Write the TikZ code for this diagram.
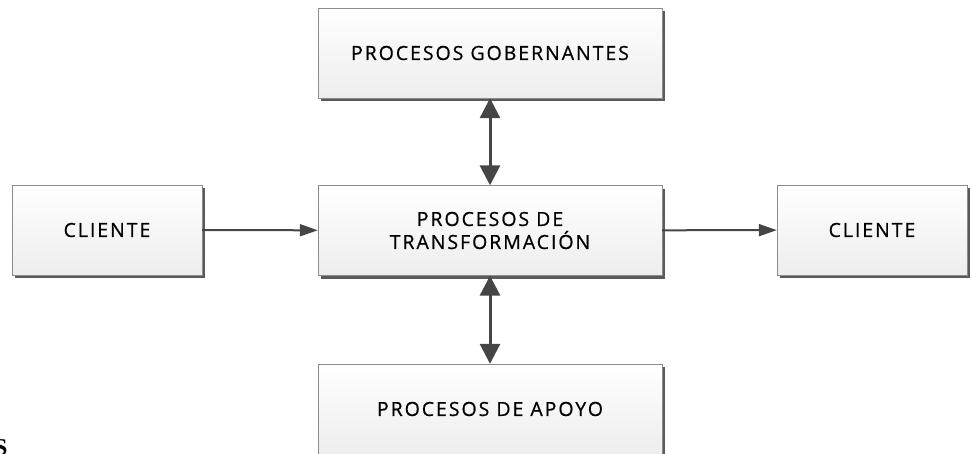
\documentclass[tikz,border=0pt]{standalone}
\usepackage{fontspec}
\setmainfont{Open Sans}
\newfontfamily\strayfont{Liberation Serif}
\usepackage{xcolor}
\usepackage{tikz}
\usetikzlibrary{arrows.meta,shadows}
\definecolor{lineColor}{HTML}{454545}
\definecolor{boxDraw}{HTML}{8C8C8C}
\definecolor{shadowColor}{HTML}{5A5A5A}

\begin{document}
\begin{tikzpicture}[
x=1pt,y=-1pt,
proc/.style={draw=boxDraw,top color=white,bottom color=black!7,
  minimum width=#1,minimum height=90pt,inner sep=0pt,align=center,
  font=\fontsize{19.5}{23}\selectfont\addfontfeatures{LetterSpace=10,FakeBold=0.6},
  drop shadow={shadow xshift=3pt,shadow yshift=-3pt,fill=shadowColor,opacity=1}},
proc/.default=344pt,
flow/.style={draw=lineColor,line width=2pt,-{Triangle[length=18pt,width=12pt]}},
both/.style={draw=lineColor,line width=3pt,{Triangle[length=20pt,width=20pt]}-{Triangle[length=20pt,width=20pt]}},
]
\useasboundingbox[clip] (0,0) rectangle (971,453);
\node[proc] (gob) at (490,53) {PROCESOS GOBERNANTES};
\node[proc] (trans) at (490,230.5) {PROCESOS DE\\TRANSFORMACIÓN};
\node[proc] (apoyo) at (490,409) {PROCESOS DE APOYO};
\node[proc=190pt] (cliIn) at (107,230) {CLIENTE};
\node[proc=190pt] (cliOut) at (872,230) {CLIENTE};
\node[anchor=north west,inner sep=0pt,font=\strayfont\bfseries\fontsize{24}{24}\selectfont] (stray) at (-6,439) {S};
\path[flow] (cliIn) -- (trans);
\path[flow] (trans) -- (cliOut);
\path[both] (gob) -- (trans);
\path[both] (trans) -- (apoyo);
\end{tikzpicture}
\end{document}
